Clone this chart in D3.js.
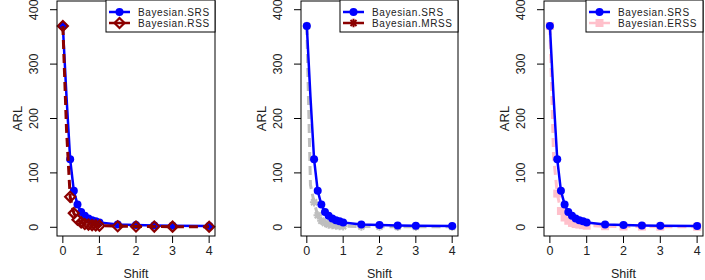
<!DOCTYPE html>
<html>
<head>
<meta charset="utf-8">
<script src="https://cdn.jsdelivr.net/npm/d3@7"></script>
<style>
  body { margin: 0; background: #fff; overflow: hidden; }
  svg { display: block; }
  text { font-family: "Liberation Sans", Arial, sans-serif; fill: #222; }
</style>
</head>
<body>
<script>
// data
var shift = [0, 0.1, 0.2, 0.3, 0.4, 0.5, 0.6, 0.7, 0.8, 0.9, 1, 1.5, 2, 2.5, 3, 4];
var srs  = [370, 240, 125, 67, 42, 28, 21, 16, 13, 11, 9, 5, 4, 3.5, 3, 2.5];
var rss  = [370, 180, 56, 26, 14, 9, 6, 5, 4, 3.5, 3, 2, 1.5, 1.3, 1.2, 1];
var mrss = [370, 78, 46, 22, 12, 8, 5, 4, 3, 2.5, 2, 1.5, 1.2, 1.1, 1.05, 1];
var erss = [370, 130, 62, 30, 18, 12, 8, 6, 5, 4, 3, 2, 1.5, 1.3, 1.2, 1];
var xTicks = [0, 1, 2, 3, 4];
var yTicks = [0, 100, 200, 300, 400];
// the 0.1 point shows no symbol in the picture
var noSymbol = [0.1];

var W = 705, H = 280;
var svg = d3.select("body").append("svg")
    .attr("width", W)
    .attr("height", H);

// marker shapes (R pch 16, 5, 8, 15)
function drawMarker(g, type, cx, cy, col) {
  if (type == "circle") {
    g.append("circle").attr("cx", cx).attr("cy", cy).attr("r", 4).style("fill", col);
  } else if (type == "diamond") {
    var s = 5;
    g.append("path")
      .attr("d", "M" + (cx - s) + "," + cy + "L" + cx + "," + (cy - s) + "L" + (cx + s) + "," + cy + "L" + cx + "," + (cy + s) + "Z")
      .style("fill", "none").style("stroke", col).style("stroke-width", 2.2);
  } else if (type == "star") {
    var s = 4.2, d = 3;
    g.append("path")
      .attr("d", "M" + (cx - s) + "," + cy + "H" + (cx + s) + "M" + cx + "," + (cy - s) + "V" + (cy + s) +
                 "M" + (cx - d) + "," + (cy - d) + "L" + (cx + d) + "," + (cy + d) +
                 "M" + (cx - d) + "," + (cy + d) + "L" + (cx + d) + "," + (cy - d))
      .style("fill", "none").style("stroke", col).style("stroke-width", 2);
  } else if (type == "square") {
    g.append("rect").attr("x", cx - 4).attr("y", cy - 4).attr("width", 8).attr("height", 8).style("fill", col);
  }
}

function drawSeries(g, x, y, vals, col, dashed, marker) {
  var pts = shift.map(function(s, i) { return [s, vals[i]]; });
  var line = d3.line()
    .x(function(d) { return x(d[0]); })
    .y(function(d) { return y(d[1]); });
  g.append("path")
    .datum(pts)
    .attr("d", line)
    .style("fill", "none")
    .style("stroke", col)
    .style("stroke-width", dashed ? 3 : 2.5)
    .style("stroke-dasharray", dashed ? "9,5" : null);
  pts.forEach(function(d) {
    if (noSymbol.indexOf(d[0]) < 0) drawMarker(g, marker, x(d[0]), y(d[1]), col);
  });
}

var panels = [
  {left: 57, right: 215, legLeft: 106, name: "Bayesian.RSS", vals: rss, col: "#8B0000", legCol: "#8B0000", marker: "diamond", onTop: true},
  {left: 301, right: 458, legLeft: 340, name: "Bayesian.MRSS", vals: mrss, col: "#BEBEBE", legCol: "#8B0000", marker: "star", onTop: false},
  {left: 544, right: 703, legLeft: 586, name: "Bayesian.ERSS", vals: erss, col: "#FFC0CB", legCol: "#FFC0CB", marker: "square", onTop: false}
];

var boxTop = 1, boxBottom = 236;

panels.forEach(function(p) {
  var g = svg.append("g");

  var x = d3.scaleLinear().domain([-0.16, 4.16]).range([p.left, p.right]);
  var y = d3.scaleLinear().domain([-16, 416]).range([boxBottom, boxTop]);

  // series
  if (p.onTop) {
    drawSeries(g, x, y, srs, "#0000FF", false, "circle");
    drawSeries(g, x, y, p.vals, p.col, true, p.marker);
  } else {
    drawSeries(g, x, y, p.vals, p.col, true, p.marker);
    drawSeries(g, x, y, srs, "#0000FF", false, "circle");
  }

  // box
  g.append("rect")
    .attr("x", p.left).attr("y", boxTop)
    .attr("width", p.right - p.left).attr("height", boxBottom - boxTop)
    .style("fill", "none").style("stroke", "#000").style("stroke-width", 1);

  // x axis
  xTicks.forEach(function(t) {
    g.append("line").attr("x1", x(t)).attr("x2", x(t)).attr("y1", boxBottom).attr("y2", boxBottom + 7)
      .style("stroke", "#000");
    g.append("text").attr("x", x(t)).attr("y", 255).attr("text-anchor", "middle")
      .style("font-size", "12.5px").text(t);
  });
  g.append("text").attr("x", (p.left + p.right) / 2).attr("y", 278).attr("text-anchor", "middle")
    .style("font-size", "12.5px").text("Shift");

  // y axis
  yTicks.forEach(function(t) {
    g.append("line").attr("x1", p.left - 7).attr("x2", p.left).attr("y1", y(t)).attr("y2", y(t))
      .style("stroke", "#000");
    g.append("text")
      .attr("transform", "translate(" + (p.left - 19) + "," + y(t) + ") rotate(-90)")
      .attr("text-anchor", "middle")
      .style("font-size", "12.5px").text(t);
  });
  g.append("text")
    .attr("transform", "translate(" + (p.left - 35) + "," + ((boxTop + boxBottom) / 2) + ") rotate(-90)")
    .attr("text-anchor", "middle")
    .style("font-size", "13px").text("ARL");

  // legend
  g.append("rect")
    .attr("x", p.legLeft).attr("y", 0)
    .attr("width", p.right - p.legLeft).attr("height", 32)
    .style("fill", "#fff").style("stroke", "#000").style("stroke-width", 1);
  var items = [
    {name: "Bayesian.SRS", col: "#0000FF", marker: "circle"},
    {name: p.name, col: p.legCol, marker: p.marker}
  ];
  items.forEach(function(it, i) {
    var ly = 12 + i * 11;
    g.append("line")
      .attr("x1", p.legLeft + 3).attr("x2", p.legLeft + 24)
      .attr("y1", ly).attr("y2", ly)
      .style("stroke", it.col).style("stroke-width", 2.5);
    drawMarker(g, it.marker, p.legLeft + 13.5, ly, it.col);
    g.append("text")
      .attr("x", p.legLeft + 32).attr("y", ly + 3.5)
      .style("font-size", "10px")
      .style("letter-spacing", "0.6px")
      .text(it.name);
  });
});
</script>
</body>
</html>
